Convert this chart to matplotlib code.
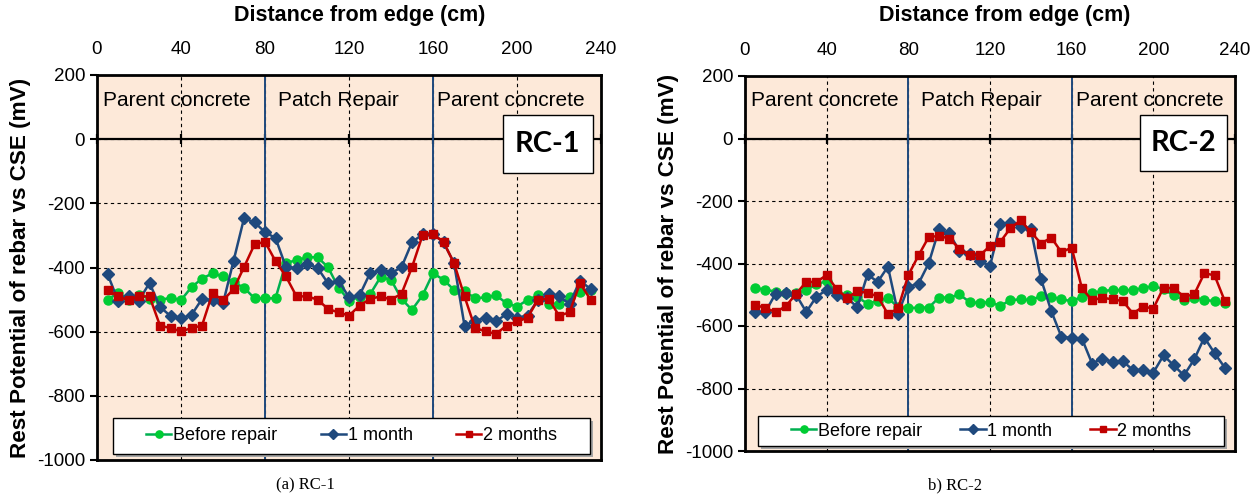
import matplotlib
matplotlib.use('Agg')
import matplotlib.pyplot as plt
from matplotlib.patches import Rectangle

plt.rcParams['font.family'] = ['Liberation Sans', 'DejaVu Sans']
plt.rcParams['axes.unicode_minus'] = False

# === Datos ===
dist = list(range(5, 240, 5))

rc1_before = [-500, -480, -500, -485, -497, -502, -494, -502, -461, -435, -418, -428, -446, -463, -496, -496,
              -496, -385, -378, -368, -368, -399, -463, -503, -492, -484, -430, -438, -498, -532, -487, -418,
              -438, -470, -473, -496, -493, -487, -511, -522, -501, -487, -513, -513, -493, -477, -470]
rc1_1month = [-420, -503, -490, -503, -448, -523, -551, -558, -548, -498, -502, -512, -380, -247, -259, -290,
              -308, -399, -402, -389, -401, -449, -441, -493, -487, -418, -409, -418, -399, -321, -297, -295,
              -321, -386, -581, -566, -557, -568, -545, -557, -550, -500, -484, -490, -513, -441, -467]
rc1_2months = [-470, -490, -502, -490, -490, -581, -589, -599, -589, -581, -480, -502, -468, -399, -328, -320,
               -380, -428, -490, -490, -500, -529, -540, -550, -519, -498, -490, -500, -482, -399, -300, -296,
               -321, -386, -490, -588, -599, -607, -581, -568, -557, -500, -497, -550, -540, -449, -500]

rc2_before = [-478, -484, -490, -495, -495, -485, -467, -456, -495, -500, -508, -528, -520, -510, -540, -543,
              -541, -541, -509, -509, -499, -523, -527, -523, -536, -517, -515, -517, -504, -507, -514, -521,
              -506, -495, -488, -485, -485, -485, -479, -472, -482, -502, -517, -510, -517, -520, -525]
rc2_1month = [-555, -555, -496, -493, -500, -555, -506, -485, -502, -510, -540, -435, -459, -410, -560, -475,
              -464, -399, -291, -303, -360, -371, -392, -408, -275, -269, -282, -291, -450, -552, -635, -638,
              -640, -720, -704, -715, -712, -741, -741, -749, -694, -726, -758, -707, -637, -687, -733]
rc2_2months = [-532, -543, -555, -537, -497, -459, -459, -437, -483, -510, -489, -494, -505, -562, -543, -437,
               -374, -315, -312, -320, -352, -374, -374, -344, -331, -287, -262, -299, -336, -317, -364, -349,
               -479, -518, -509, -515, -520, -560, -538, -544, -477, -479, -506, -499, -431, -438, -520]

x_ticks = [0, 40, 80, 120, 160, 200, 240]
y_ticks = [200, 0, -200, -400, -600, -800, -1000]
zonas = ['Parent concrete', 'Patch Repair', 'Parent concrete']
zonas_x = [3, 86, 162]
bordes_reparacion = [80, 160]

FONDO = '#FDE9D9'
VERDE_LINEA, VERDE_MARCA = '#00B050', '#00CC33'
AZUL = '#1F497D'
ROJO = '#C00000'


def dibujar_panel(ax, before, m1, m2, nombre, leg_rect, col_sp, titulo_x):
    ax.set_facecolor(FONDO)
    ax.set_xlim(0, 240)
    ax.set_ylim(-1000, 200)
    ax.set_xticks(x_ticks)
    ax.set_yticks(y_ticks)
    ax.grid(True, color='black', linestyle=(0, (3, 3)), linewidth=0.8, zorder=1)
    ax.set_axisbelow(True)

    # eje x arriba, como en Excel
    ax.xaxis.tick_top()
    ax.xaxis.set_label_position('top')
    ax.tick_params(axis='x', length=0, pad=12, labelsize=13.5)
    ax.tick_params(axis='y', length=5, width=1.5, direction='out', labelsize=13.5)
    for s in ax.spines.values():
        s.set_linewidth(2)
    ax.set_xlabel('Distance from edge (cm)', fontsize=15.5, fontweight='bold', labelpad=15)
    ax.xaxis.label.set_x(titulo_x)
    ax.set_ylabel('Rest Potential of rebar vs CSE (mV)', fontsize=16.2, fontweight='bold', labelpad=4)

    # linea de cero con marcas
    ax.axhline(0, color='black', linewidth=1.6, zorder=2)
    ax.plot(x_ticks, [0] * len(x_ticks), linestyle='none', marker='|', color='black',
            markersize=7, markeredgewidth=1.6, zorder=2, clip_on=False)

    for b in bordes_reparacion:
        ax.axvline(b, color=AZUL, linewidth=1.4, zorder=2)

    for txt, xz in zip(zonas, zonas_x):
        ax.text(xz, 122, txt, fontsize=15, ha='left', va='center', zorder=3)

    ax.plot(dist, before, color=VERDE_LINEA, linewidth=1.8, marker='o', markersize=6.5,
            markerfacecolor=VERDE_MARCA, markeredgecolor=VERDE_MARCA, label='Before repair', zorder=4)
    ax.plot(dist, m1, color=AZUL, linewidth=1.8, marker='D', markersize=6.2,
            markerfacecolor=AZUL, markeredgecolor=AZUL, label='1 month', zorder=5)
    ax.plot(dist, m2, color=ROJO, linewidth=1.8, marker='s', markersize=6,
            markerfacecolor=ROJO, markeredgecolor=ROJO, label='2 months', zorder=6)

    # recuadro con el nombre de la viga
    ax.add_patch(Rectangle((193.5, -104), 42.5, 180, fc='white', ec='black', lw=1, zorder=7))
    ax.text(214.7, -14, nombre, fontsize=21, fontweight='bold', family=['Lato', 'DejaVu Sans'],
            ha='center', va='center', zorder=8)

    # marco de la leyenda con sombra
    x0, y0, x1, y1 = leg_rect
    bb = ax.get_window_extent()
    dx, dy = 3 / bb.width, 3 / bb.height
    ax.add_patch(Rectangle((x0 + dx, y0 - dy), x1 - x0, y1 - y0, transform=ax.transAxes,
                           fc='#A6A6A6', ec='none', zorder=8))
    ax.add_patch(Rectangle((x0, y0), x1 - x0, y1 - y0, transform=ax.transAxes,
                           fc='white', ec='black', lw=1, zorder=9))
    leg = ax.legend(loc='center', bbox_to_anchor=((x0 + x1) / 2, (y0 + y1) / 2), ncol=3,
                    fontsize=13, frameon=False, borderaxespad=0, handlelength=1.4,
                    handletextpad=0.1, columnspacing=col_sp, markerscale=0.8)
    leg.set_zorder(10)


fig = plt.figure(figsize=(12.6, 4.95), dpi=100)
ax1 = fig.add_axes([97 / 1260, 1 - 460 / 495, 504 / 1260, 385 / 495])
ax2 = fig.add_axes([745 / 1260, 1 - 451 / 495, 490 / 1260, 375 / 495])

dibujar_panel(ax1, rc1_before, rc1_1month, rc1_2months, 'RC-1', (0.032, 0.016, 0.978, 0.109), 2.4, 0.522)
dibujar_panel(ax2, rc2_before, rc2_1month, rc2_2months, 'RC-2', (0.027, 0.013, 0.978, 0.093), 2.1, 0.53)

fig.text(305 / 1260, 1 - 485 / 495, '(a) RC-1', family='Liberation Serif', fontsize=12,
         ha='center', va='center')
fig.text(955 / 1260, 1 - 485 / 495, 'b) RC-2', family='Liberation Serif', fontsize=12,
         ha='center', va='center')

fig.savefig('out.png', dpi=100)
